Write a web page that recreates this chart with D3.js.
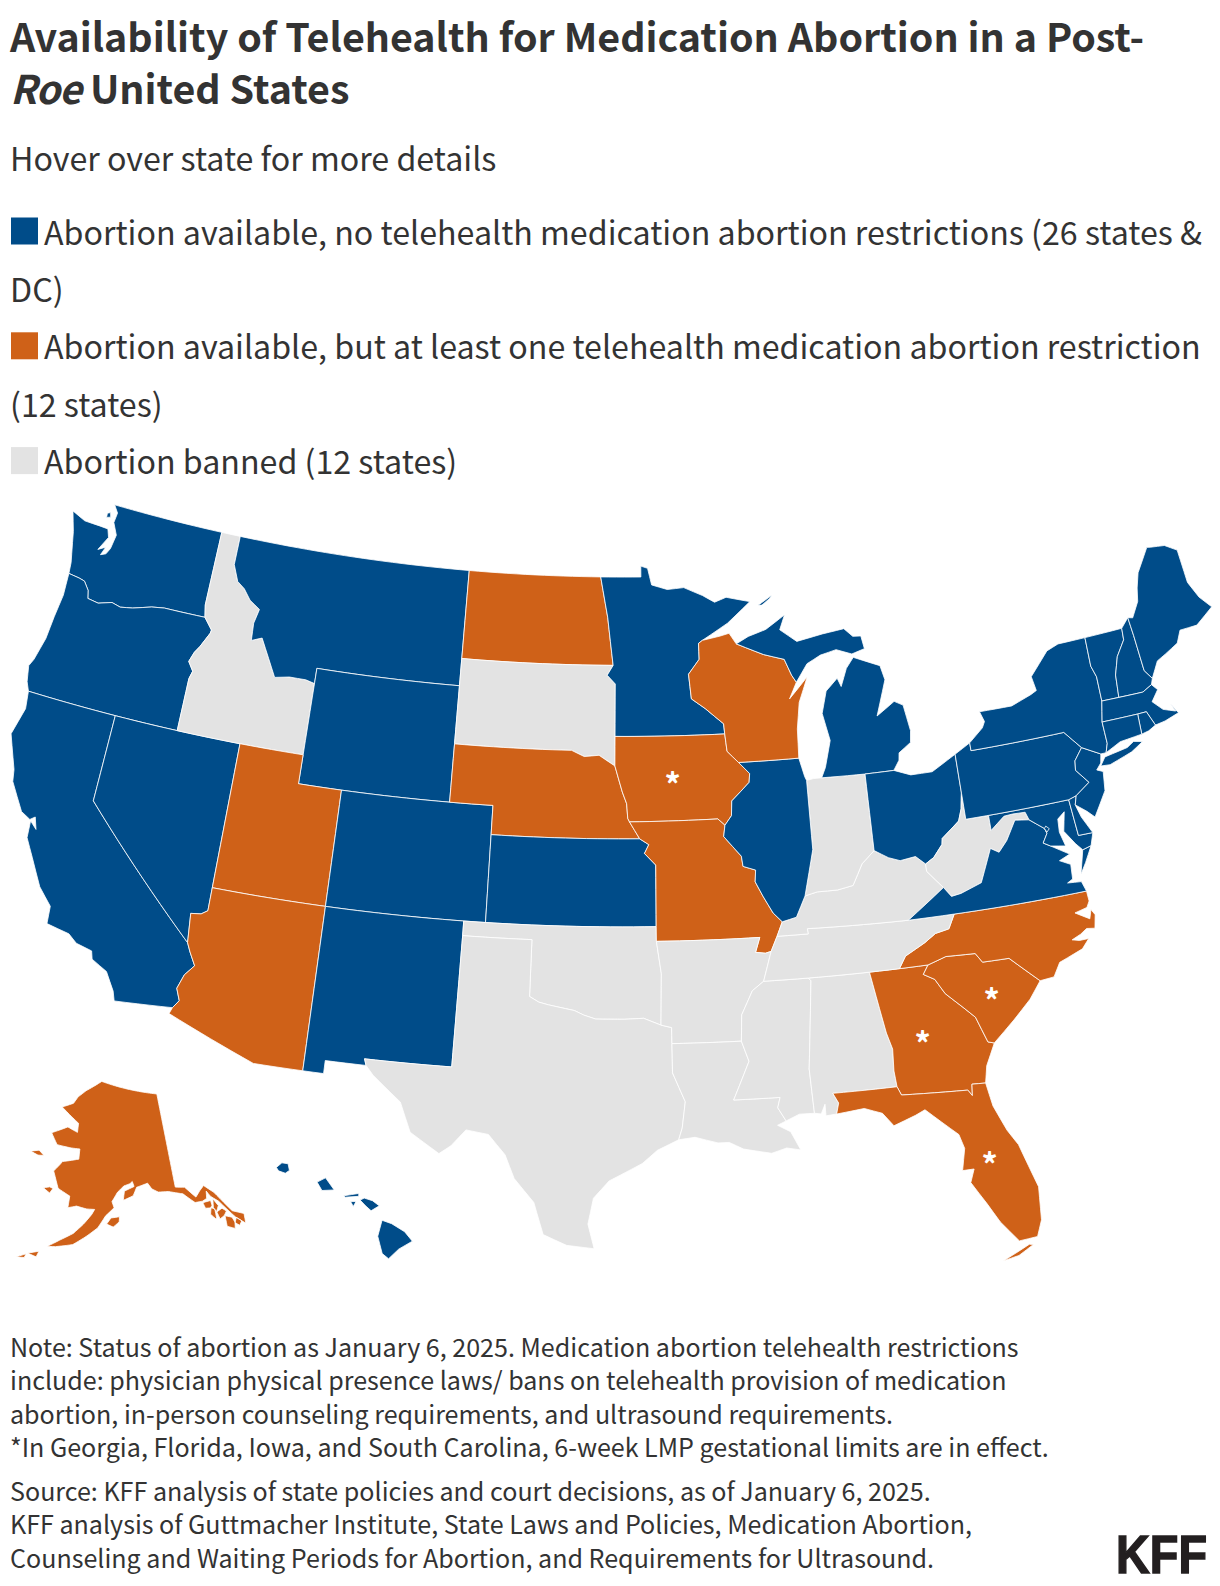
<!DOCTYPE html>
<html>
<head>
<meta charset="utf-8">
<script src="https://d3js.org/d3.v7.min.js"></script>
<style>
html, body { margin: 0; background: #fff; }
text { font-family: "Noto Sans CJK SC", "Noto Sans", sans-serif; fill: #333; }
</style>
</head>
<body>
<div id="chart"></div>
<script>
var titleLines = [[["Availability of Telehealth for Medication Abortion in a Post-", false]], [["Roe", true], [" United States", false]]];
var subtitle = "Hover over state for more details";
var legendLabels = [
  ["Abortion available, no telehealth medication abortion restrictions (26 states &", "DC)"],
  ["Abortion available, but at least one telehealth medication abortion restriction", "(12 states)"],
  ["Abortion banned (12 states)"]
];
var noteLines = [
  "Note: Status of abortion as January 6, 2025. Medication abortion telehealth restrictions",
  "include: physician physical presence laws/ bans on telehealth provision of medication",
  "abortion, in-person counseling requirements, and ultrasound requirements.",
  "*In Georgia, Florida, Iowa, and South Carolina, 6-week LMP gestational limits are in effect."
];
var sourceLines = [
  "Source: KFF analysis of state policies and court decisions, as of January 6, 2025.",
  "KFF analysis of Guttmacher Institute, State Laws and Policies, Medication Abortion,",
  "Counseling and Waiting Periods for Abortion, and Requirements for Ultrasound."
];

var noRestriction = ["WA","OR","CA","NV","MT","WY","CO","NM","KS","MN","IL","MI","OH","PA","NY","VT","NH","ME","MA","RI","CT","NJ","DE","MD","DC","VA","HI"];
var restricted = ["AK","AZ","UT","ND","NE","IA","MO","WI","NC","SC","GA","FL"];
var banned = ["ID","SD","TX","OK","AR","LA","MS","AL","TN","KY","WV","IN"];
var gestationalLimit = [[-93.77, 41.4], [-80.77, 33.05], [-83.82, 31.95], [-81.85, 27.5]];

// shared borders, lon/lat
var columbia = [[-124.0,46.27],[-123.45,46.22],[-123.15,46.17],[-122.85,45.9],[-122.75,45.63],[-122.2,45.57],[-121.55,45.72],[-121.1,45.64],[-120.5,45.72],[-119.6,45.92],[-118.98,45.99],[-116.92,46.0]];
var snake = [[-117.03,42],[-117.03,43.83],[-116.93,44.1],[-117.22,44.4],[-117.05,44.75],[-116.85,44.98],[-116.5,45.5],[-116.47,45.62],[-116.92,46.0]];
var bitterroot = [[-116.05,48],[-115.7,47.45],[-115.3,47.25],[-114.9,46.9],[-114.35,46.65],[-114.5,46.15],[-114.45,45.55],[-113.95,45.7],[-113.45,45.05],[-113.0,44.45],[-112.3,44.55],[-111.5,44.55],[-111.05,44.47]];
var coloradoRiver = [[-114.63,35],[-114.45,34.7],[-114.15,34.27],[-114.5,33.9],[-114.7,33.4],[-114.5,33],[-114.72,32.72]];
var redRiver = [[-94.48,33.64],[-95.2,33.88],[-96,33.85],[-96.6,33.85],[-97.2,33.85],[-97.7,33.98],[-98.1,34.13],[-99.2,34.3],[-99.6,34.38],[-100,34.56]];
var missouriUpper = [[-98.5,43],[-97.9,42.8],[-97.2,42.85],[-96.45,42.49]];
var missouriMid = [[-96.45,42.49],[-96.1,41.6],[-95.9,41.2],[-95.85,40.7],[-95.77,40.58]];
var missouriLow = [[-95.77,40.58],[-95.31,40],[-94.9,39.8],[-95.1,39.5],[-94.6,39.1]];
var mississippiMN = [[-92.3,46.65],[-92.3,46.1],[-92.85,45.6],[-92.75,44.75],[-92.1,44.4],[-91.25,43.85],[-91.22,43.5]];
var mississippiIA = [[-91.22,43.5],[-91.15,42.9],[-90.64,42.5]];
var mississippiIL = [[-90.64,42.5],[-90.15,42.1],[-90.2,41.8],[-91.05,41.2],[-91.1,40.7],[-91.42,40.38]];
var mississippiMO = [[-91.42,40.38],[-91.5,40],[-90.75,39.3],[-90.7,38.95],[-90.15,38.8],[-90.2,38.4],[-89.9,37.9],[-89.5,37.3],[-89.13,36.98]];
var mississippiKY = [[-89.13,36.98],[-89.4,36.5]];
var mississippiTN = [[-89.4,36.5],[-89.7,36]];
var mississippiAR = [[-90.1,35],[-90.6,34.7],[-91.1,33.9],[-91.17,33]];
var mississippiLA = [[-91.17,33],[-90.9,32.3],[-91.6,31]];
var ohioIL = [[-89.13,36.98],[-88.5,37.1],[-88.05,37.8]];
var ohioIN = [[-88.05,37.8],[-87.5,37.9],[-86.6,37.9],[-85.9,38],[-85.4,38.7],[-84.8,39.1]];
var ohioOH = [[-84.8,39.1],[-84.2,38.8],[-83.7,38.65],[-83,38.72],[-82.6,38.42]];
var ohioWV = [[-82.6,38.42],[-82.2,38.6],[-81.75,39],[-81.7,39.2],[-80.85,39.7],[-80.65,40.1],[-80.52,40.64]];
var savannah = [[-83.1,35],[-83.35,34.7],[-82.9,34.48],[-82.55,33.95],[-81.9,33.4],[-81.45,33],[-81.1,32.1],[-80.85,32.03]];
var carolinas = [[-83.1,35],[-82.3,35.2],[-81.05,35.15],[-80.8,34.82],[-79.67,34.8],[-78.55,33.86]];
var smokies = [[-81.68,36.59],[-82,36.12],[-82.6,36.03],[-83.1,35.77],[-84,35.4],[-84.32,35]];
var chattahoochee = [[-85.6,35],[-85.18,32.87],[-85,32.3],[-85.05,31.55],[-85,31]];
var kyVa = [[-83.68,36.6],[-81.97,37.54]];
var wvKy = [[-81.97,37.54],[-82.6,38.17],[-82.6,38.42]];
var wvVa = [[-77.72,39.32],[-78.35,39.4],[-78.87,38.77],[-79.3,38.42],[-79.65,38.6],[-80.3,37.5],[-81.25,37.25],[-81.68,37.2],[-81.97,37.54]];
var potomac = [[-77,38.3],[-77.3,38.45],[-77.05,38.75],[-77.12,38.93],[-77.72,39.32]];
var wvMd = [[-79.48,39.72],[-79.48,39.2],[-78.8,39.6],[-78.4,39.62],[-77.83,39.6],[-77.72,39.32]];
var delaware = [[-74.72,40.15],[-75.42,39.8]];
var paNj = [[-74.7,41.36],[-75.13,40.97],[-75.2,40.65],[-74.72,40.15]];
var connecticutRiver = [[-71.5,45],[-71.55,44.6],[-72.05,44.1],[-72.35,43.5],[-72.46,42.73]];
var nyNe = [[-73.35,45],[-73.4,44],[-73.25,43.6],[-73.28,42.75]];
var wiMi = [[-90.42,46.57],[-89.1,46.14],[-88.1,45.92],[-87.8,45.35],[-87.6,45.1]];
var meNh = [[-71.08,45.3],[-71.03,44.65],[-70.98,43.4],[-70.7,43.07]];
var rioGrande = [[-106.53,31.78],[-106.2,31.47],[-105,30.65],[-104.5,29.65],[-103.3,29],[-102.85,29.3],[-102.3,29.88],[-101.4,29.77],[-100.7,29.1],[-100.3,28.3],[-99.5,27.5],[-99.1,26.4],[-98.2,26.05],[-97.15,25.95]];

function rev(a) { return a.slice().reverse(); }
function ring() { return [].concat.apply([], arguments); }

var WA = [ring([[-124.73,48.38],[-124.4,47.7],[-124.15,46.95],[-124.05,46.65]], columbia, [[-117.04,46.42],[-117.03,49],[-122.76,49],[-122.5,48.75],[-122.55,48.4],[-122.25,48.0],[-122.35,47.5],[-122.5,47.28],[-122.75,47.2],[-122.6,47.5],[-122.95,47.35],[-122.6,47.85],[-122.75,48.13],[-123.2,48.15],[-124,48.17]]), [[-123.0,48.65],[-122.85,48.7],[-122.78,48.55],[-122.98,48.5]]];
var OR = [ring([[-124.0,46.27],[-123.95,45.5],[-124.07,44.7],[-124.15,43.9],[-124.4,43.1],[-124.55,42.84],[-124.4,42.3],[-124.21,42],[-120,42]], snake, rev(columbia).slice(1))];
var CA = [ring([[-124.21,42],[-124.1,41.4],[-124.4,40.44],[-123.8,39.3],[-123.7,38.9],[-122.95,38],[-122.5,37.82],[-122.3,37.95],[-122.12,37.55],[-122.45,37.78],[-122.4,37.2],[-121.95,36.6],[-121.3,35.7],[-120.65,35.15],[-120.6,34.55],[-119.6,34.4],[-119.2,34.15],[-118.5,34.02],[-118.4,33.75],[-117.7,33.45],[-117.25,32.85],[-117.12,32.53]], rev(coloradoRiver), [[-120,39],[-120,42]])];
var NV = [ring([[-120,42],[-114.04,42],[-114.04,36.2],[-114.3,36.05],[-114.74,36],[-114.63,35],[-120,39]])];
var ID = [ring([[-117.03,49],[-116.05,49]], bitterroot, [[-111.05,42]], snake, [[-117.04,46.42]])];
var MT = [ring([[-116.05,49],[-104.05,49],[-104.05,45],[-111.05,45]], rev(bitterroot))];
var WY = [[[-111.05,45],[-104.05,45],[-104.05,41],[-111.05,41]]];
var UT = [[[-114.04,42],[-111.05,42],[-111.05,41],[-109.05,41],[-109.05,37],[-114.04,37]]];
var CO = [[[-109.05,41],[-102.05,41],[-102.05,37],[-109.05,37]]];
var AZ = [ring([[-114.04,37],[-109.05,37],[-109.05,31.33],[-111.07,31.33],[-114.81,32.5]], rev(coloradoRiver), [[-114.74,36],[-114.3,36.05],[-114.04,36.2]])];
var NM = [[[-109.05,37],[-103,37],[-103,36.5],[-103.05,32],[-106.62,32],[-106.53,31.78],[-108.2,31.78],[-108.2,31.33],[-109.05,31.33]]];
var ND = [[[-104.05,49],[-97.23,49],[-96.85,47.6],[-96.56,45.94],[-104.05,45.94]]];
var SD = [ring([[-104.05,45.94],[-96.56,45.94],[-96.85,45.6],[-96.45,45.3],[-96.45,43.5],[-96.45,42.49]], rev(missouriUpper), [[-104.05,43]])];
var NE = [ring([[-104.05,43]], missouriUpper, missouriMid.slice(1), missouriLow.slice(1,2), [[-102.05,40],[-102.05,41],[-104.05,41]])];
var KS = [ring([[-102.05,40]], missouriLow.slice(1), [[-94.62,37],[-102.05,37]])];
var OK = [ring([[-103,37],[-94.62,37],[-94.62,36.5],[-94.43,35.4]], redRiver, [[-100,36.5],[-103,36.5]])];
var TX = [ring([[-103,36.5],[-100,36.5]], rev(redRiver), [[-94.04,33.55],[-94.04,33],[-94.04,32],[-93.55,31],[-93.7,30.1],[-93.85,29.7],[-94.7,29.35],[-95.3,28.9],[-96.6,28.3],[-97.2,27.7],[-97.4,26.8]], rev(rioGrande), [[-106.62,32],[-103.05,32]])];
var MN = [ring([[-97.23,49],[-95.15,49],[-95.15,49.38],[-94.8,49.3],[-94.6,48.72],[-93.8,48.55],[-92.95,48.6],[-92,48.3],[-91.4,48.05],[-90.8,48.2],[-89.6,48],[-90.8,47.3],[-92.1,46.75]], mississippiMN, [[-96.45,43.5],[-96.45,45.3],[-96.85,45.6],[-96.56,45.94],[-96.85,47.6]])];
var IA = [ring([[-96.45,43.5]], mississippiIA, mississippiIL.slice(1), [[-91.73,40.61]], rev(missouriMid))];
var MO = [ring([[-95.77,40.58],[-91.73,40.61]], mississippiMO, mississippiKY.slice(1), mississippiTN.slice(1), [[-89.95,35.95],[-90.37,36],[-90.15,36.5],[-94.62,36.5],[-94.62,37]], rev(missouriLow))];
var AR = [ring([[-94.62,36.5],[-90.15,36.5],[-90.37,36],[-89.95,35.95],[-89.7,36]], mississippiAR, [[-94.04,33],[-94.04,33.55],[-94.48,33.64],[-94.43,35.4]])];
var LA = [ring([[-94.04,33]], mississippiLA, [[-89.73,31],[-89.85,30.65],[-89.55,30.18],[-89.9,30.05],[-89.4,29.8],[-89.05,29.15],[-89.6,29.25],[-90.2,29.1],[-91.3,29.3],[-91.85,29.55],[-92.3,29.55],[-93.2,29.77],[-93.85,29.7],[-93.7,30.1],[-93.55,31],[-94.04,32]])];
var MS = [ring(rev(mississippiLA), rev(mississippiAR), [[-88.2,35],[-88.1,34.9],[-88.47,31.9],[-88.4,30.37],[-89,30.38],[-89.55,30.18],[-89.85,30.65],[-89.73,31]])];
var AL = [ring([[-88.2,35]], chattahoochee, [[-87.6,31],[-87.4,30.65],[-87.52,30.28],[-87.95,30.25],[-87.95,30.65],[-88.13,30.33],[-88.4,30.37],[-88.47,31.9],[-88.1,34.9]])];
var GA = [ring(chattahoochee.slice(0,1), [[-84.32,35]], savannah, [[-81.3,31.3],[-81.45,30.72],[-82,30.75],[-82.05,30.36],[-82.2,30.57],[-84.86,30.7]], rev(chattahoochee).slice(0,4))];
var FL = [ring([[-87.6,31],[-85,31],[-84.86,30.7],[-82.2,30.57],[-82.05,30.36],[-82,30.75],[-81.45,30.72],[-81.3,29.9],[-80.9,29],[-80.55,28.45],[-80.05,26.9],[-80.15,25.75],[-80.4,25.2],[-81.1,25.15],[-81.7,25.9],[-82.1,26.6],[-82.6,27.4],[-82.4,27.85],[-82.85,27.85],[-82.65,28.6],[-82.8,29.1],[-83.4,29.6],[-84,30.1],[-84.4,29.95],[-85.3,29.68],[-85.7,30.15],[-86.4,30.38],[-87.52,30.28],[-87.4,30.65]]), [[-81.8,24.55],[-81.2,24.65],[-80.6,24.95],[-80.75,24.98],[-81.3,24.75]]];
var SC = [ring(carolinas, [[-79.1,33.3],[-79.9,32.7]], savannah.slice(-1), rev(savannah).slice(1))];
var NC = [ring(smokies, [[-83.1,35]], carolinas.slice(1), [[-77.95,33.9],[-77.6,34.35],[-76.55,34.65],[-76.2,34.95],[-76.6,34.95],[-76.9,35.02],[-76.5,35.15],[-76.2,35.3],[-75.85,35.25],[-75.72,35.7],[-75.85,35.9],[-75.98,35.6],[-76.55,35.9],[-76,36],[-75.85,36.2],[-75.87,36.55]])];
var TN = [ring([[-90.1,35],[-89.7,36],[-89.4,36.5],[-88.05,36.5],[-88.07,36.68],[-83.68,36.6]], smokies, [[-85.6,35],[-88.2,35]])];
var KY = [ring([[-89.4,36.5]], rev(mississippiKY), ohioIL.slice(1), ohioIN.slice(1), ohioOH.slice(1), rev(wvKy).slice(1), rev(kyVa).slice(1), [[-88.07,36.68],[-88.05,36.5]])];
var IN = [ring([[-87.53,41.72],[-87.2,41.76],[-86.82,41.76],[-84.8,41.73]], rev(ohioIN), [[-87.53,39.35]])];
var IL = [ring(mississippiIL.slice(0,1), [[-87.8,42.5],[-87.6,41.85],[-87.53,41.72],[-87.53,39.35]], rev(ohioIL), rev(mississippiMO).slice(1), rev(mississippiIL).slice(1))];
var WI = [ring([[-92.1,46.75],[-91.2,46.87],[-90.75,46.95]], wiMi, [[-88,44.55],[-87.05,45.25],[-87.55,44.4],[-87.75,43.5],[-87.8,42.5]], rev(mississippiIA), rev(mississippiMN))];
var MI = [ring(wiMi, [[-87,45.7],[-86.3,45.95],[-85.5,46.08],[-84.75,45.87],[-84.1,46],[-84.2,46.45],[-84.6,46.47],[-85,46.77],[-86.1,46.67],[-87.4,46.5],[-88.2,46.95],[-87.9,47.45],[-88.9,47],[-89.8,46.8]]),
  [[-86.82,41.76],[-84.8,41.73],[-83.45,41.73],[-83.15,42.05],[-83.1,42.3],[-82.5,42.6],[-82.42,43],[-82.6,43.9],[-83,44.07],[-83.9,43.65],[-83.3,44.85],[-83.45,45.35],[-84.7,45.75],[-85.1,45.4],[-85.45,44.8],[-85.6,45.1],[-86.2,44.7],[-86.5,43.95],[-86.25,43],[-86.6,42.1]],
  [[-89.2,47.85],[-88.45,48.17],[-88.6,48.05],[-89,47.85]]];
var OH = [ring([[-84.8,41.73],[-83.45,41.73],[-82.7,41.5],[-81.7,41.5],[-80.52,41.97],[-80.52,40.64]], rev(ohioWV), rev(ohioOH))];
var WV = [ring(ohioWV, [[-80.52,39.72]], wvMd, wvVa.slice(1), wvKy.slice(1))];
var VA = [ring(kyVa.slice(0,1), [[-81.68,36.59],[-75.87,36.55],[-76,36.9],[-76.6,36.95],[-76.35,37.05],[-76.3,37.55],[-76.75,37.75],[-76.25,37.9]], potomac, wvVa.slice(1), kyVa.slice(1)), [[-75.95,37.15],[-75.65,37.95],[-75.25,38.03],[-75.65,37.5]]];
var MD = [ring(wvMd.slice(0,1), [[-75.79,39.72],[-75.7,38.46],[-75.05,38.45],[-75.25,38.03],[-75.65,37.95],[-75.9,38.2],[-76.3,38.7],[-76.1,39.35],[-76.45,39.15],[-76.5,38.7],[-76.35,38.2],[-77,38.3]], potomac.slice(1), rev(wvMd).slice(1))];
var DC = [[[-77.12,38.93],[-77.04,39],[-76.91,38.89],[-77.04,38.79]]];
var DE = [[[-75.79,39.72],[-75.42,39.8],[-75.55,39.5],[-75.4,39.05],[-75.05,38.45],[-75.7,38.46]]];
var PA = [ring([[-80.52,41.97],[-79.76,42.27],[-79.76,42],[-75.35,42]], paNj, delaware.slice(1), [[-75.79,39.72],[-80.52,39.72]])];
var NJ = [ring(paNj.slice(0,1), [[-73.9,41],[-74,40.7],[-74.25,40.5],[-73.98,40.4],[-74.1,39.75],[-74.8,38.95],[-75.1,39.2],[-75.55,39.5],[-75.42,39.8]], rev(paNj).slice(0,3))];
var NY = [ring([[-79.76,42.27],[-79.05,42.7],[-78.9,42.9],[-79.05,43.26],[-77.5,43.25],[-76.5,43.5],[-76.2,43.6],[-76.3,44.1],[-75.3,44.85],[-74.7,45]], nyNe, [[-73.5,42.05],[-73.5,41.3],[-73.65,41],[-73.9,41],[-74.7,41.36],[-75.35,42],[-79.76,42]]), [[-74.03,40.6],[-73.75,40.87],[-72.65,41],[-72.3,41.15],[-71.9,41.07],[-72.5,40.82],[-73.6,40.57]]];
var VT = [ring(nyNe, [[-72.46,42.73]], rev(connecticutRiver))];
var NH = [ring(connecticutRiver, [[-71.3,42.7],[-70.82,42.87]], rev(meNh))];
var ME = [ring(meNh, [[-70.25,43.6],[-69.8,43.75],[-69.1,44],[-68.8,44.4],[-67.95,44.4],[-67,44.85],[-67.45,45.3],[-67.78,45.9],[-67.8,47.07],[-68.35,47.35],[-69.05,47.43],[-69.23,47.46],[-70,46.7],[-70.25,46.2],[-70.4,45.75],[-70.85,45.25]])];
var MA = [ring([[-73.5,42.05],[-73.28,42.75],[-72.46,42.73],[-71.3,42.7],[-70.82,42.87],[-70.6,42.65],[-71,42.3],[-70.6,41.95],[-70.05,41.78],[-70.2,42.07],[-69.95,41.7],[-70.65,41.55],[-71.13,41.5],[-71.38,42.02],[-71.8,42.02]])];
var RI = [[[-71.8,42.02],[-71.38,42.02],[-71.13,41.5],[-71.5,41.37],[-71.85,41.32]]];
var CT = [[[-73.5,42.05],[-71.8,42.02],[-71.85,41.32],[-72.9,41.25],[-73.65,41],[-73.5,41.3]]];
var AK = [
  [[-141,69.65],[-141,60.3],[-139.2,60.1],[-137.5,58.9],[-136.5,59.4],[-135.5,59.8],[-134,58.9],[-133.2,58.1],[-131.8,56.6],[-130,55.95],[-130.3,55],[-131.6,55.9],[-132.6,56.9],[-133.6,57.9],[-134.8,58.6],[-135.3,59.2],[-135.6,58.5],[-136.5,58.35],[-137.9,58.4],[-139.8,59.5],[-142.5,60],[-144.5,60.1],[-145.7,60.5],[-146.4,61.1],[-148.7,60.8],[-149.5,60],[-151.5,59.6],[-151.2,60.5],[-149.2,60.9],[-149.5,61.4],[-150,61.2],[-151.3,61],[-152.6,60.4],[-153.7,59.5],[-153.3,58.9],[-154.9,58.1],[-156.3,56.9],[-158.3,56],[-160.5,55.1],[-163.4,54.7],[-164.8,54.6],[-162.8,55.4],[-160.6,56.2],[-158.9,57.2],[-157.5,58.2],[-157,58.7],[-158.5,58.7],[-160.5,58.9],[-162.1,58.65],[-162,59.8],[-164.5,60.4],[-165.5,61.5],[-166,62],[-164.8,62.8],[-164.5,63.05],[-161,63.5],[-161,64.5],[-163,64.5],[-166.3,64.6],[-168.1,65.65],[-164.5,66.5],[-162,66.1],[-162,67],[-164.1,67.6],[-166.8,68.35],[-164,68.9],[-163,69.6],[-161,70.3],[-156.6,71.35],[-152,70.85],[-146,70.2]],
  [[-154.7,57.3],[-153.9,57.9],[-152.3,58],[-152.4,57.5],[-153.5,57]],
  [[-135,57.7],[-135,58.2],[-136.5,58.2],[-136.3,57.6],[-135.4,57.5]],
  [[-134.85,56.4],[-134.7,57.3],[-135.3,57.5],[-135.7,56.9],[-135,56.3]],
  [[-133.9,57.5],[-134.5,58.3],[-134.9,57.4],[-134.5,57]],
  [[-133.4,56.4],[-132.8,56.75],[-133.4,57.15],[-134.5,56.95],[-134.3,56.2]],
  [[-132,55.45],[-132.2,56],[-133.3,56.35],[-133.5,55.3],[-132.3,54.85]],
  [[-130.8,55.35],[-131.5,55.85],[-132,55.4],[-131.4,55]],
  [[-167.4,60.2],[-166,59.8],[-165.5,60.3],[-166.2,60.4]],
  [[-171.75,63.4],[-170,63.7],[-168.7,63.3],[-170,63.2]],
  [[-167.8,53.6],[-166,54],[-166.3,53.4]],
  [[-169.5,53],[-168,53.5],[-168.2,53.1]],
  [[-174.5,52.3],[-172.8,52.2],[-174,52]]
];
var HI = [
  [[-155.9,20.25],[-155.55,20.13],[-155.08,19.85],[-154.8,19.52],[-155.3,19.25],[-155.67,18.92],[-155.9,19.1],[-156.06,19.7]],
  [[-156.7,20.95],[-156.55,21.02],[-156.25,20.93],[-156,20.75],[-156.3,20.58],[-156.5,20.75]],
  [[-157.3,21.1],[-156.75,21.18],[-156.75,21.08],[-157.25,21.05]],
  [[-158.28,21.57],[-157.97,21.72],[-157.65,21.3],[-158.1,21.28]],
  [[-159.78,22.07],[-159.58,22.23],[-159.35,22.2],[-159.3,21.97],[-159.45,21.87],[-159.7,21.95]],
  [[-157.05,20.9],[-156.85,20.9],[-156.95,20.73]]
];

var stateShapes = {WA:WA,OR:OR,CA:CA,NV:NV,ID:ID,MT:MT,WY:WY,UT:UT,CO:CO,AZ:AZ,NM:NM,ND:ND,SD:SD,NE:NE,KS:KS,OK:OK,TX:TX,MN:MN,IA:IA,MO:MO,AR:AR,LA:LA,MS:MS,AL:AL,GA:GA,FL:FL,SC:SC,NC:NC,TN:TN,KY:KY,IN:IN,IL:IL,WI:WI,MI:MI,OH:OH,WV:WV,VA:VA,MD:MD,DE:DE,PA:PA,NJ:NJ,NY:NY,VT:VT,NH:NH,ME:ME,MA:MA,RI:RI,CT:CT,AK:AK,HI:HI,DC:DC};

var blue = "#004c89", orange = "#cf6118", grey = "#e3e3e3";
var width = 1220, height = 1586;

var color = d3.scaleOrdinal()
  .domain(noRestriction.concat(restricted, banned))
  .range(noRestriction.map(function() { return blue; }).concat(restricted.map(function() { return orange; }), banned.map(function() { return grey; })));

// borders run along parallels, so add vertices before geoPath draws great arcs
function densify(r) {
  var out = [];
  for (var i = 0; i < r.length; i++) {
    var a = r[i], b = r[(i + 1) % r.length];
    var n = Math.ceil(Math.max(Math.abs(b[0] - a[0]), Math.abs(b[1] - a[1])) / 0.5) || 1;
    for (var j = 0; j < n; j++) out.push([a[0] + (b[0] - a[0]) * j / n, a[1] + (b[1] - a[1]) * j / n]);
  }
  out.push(out[0].slice());
  if (d3.geoArea({type: "Polygon", coordinates: [out]}) > 2 * Math.PI) out.reverse();
  return out;
}

var features = Object.keys(stateShapes).map(function(id) {
  return {type: "Feature", id: id, geometry: {type: "MultiPolygon", coordinates: stateShapes[id].map(function(r) { return [densify(r)]; })}};
});

var projection = d3.geoAlbersUsa().scale(1665).translate([611, 877]);
var path = d3.geoPath(projection);

var svg = d3.select("#chart").append("svg")
  .attr("width", width)
  .attr("height", height)
  .style("display", "block");

var title = svg.append("g").selectAll("text").data(titleLines).enter().append("text")
  .attr("x", 10)
  .attr("y", function(d, i) { return 52 + i * 52; })
  .style("font-size", "39.4px")
  .style("font-weight", 700);
title.selectAll("tspan").data(function(d) { return d; }).enter().append("tspan")
  .style("font-style", function(d) { return d[1] ? "italic" : "normal"; })
  .style("letter-spacing", function(d) { return d[1] ? "-1px" : "0"; })
  .text(function(d) { return d[0]; });

svg.append("text")
  .attr("x", 10).attr("y", 171)
  .style("font-size", "32.2px")
  .text(subtitle);

var legendColors = [blue, orange, grey];
var legendY = 244.5;
legendLabels.forEach(function(lines, i) {
  svg.append("rect")
    .attr("x", 11).attr("y", legendY - 27)
    .attr("width", 27).attr("height", 27)
    .attr("fill", legendColors[i]);
  lines.forEach(function(line, j) {
    svg.append("text")
      .attr("x", j == 0 ? 44 : 10)
      .attr("y", legendY)
      .style("font-size", "32.2px")
      .text(line);
    legendY += 57.4;
  });
});

svg.append("g").selectAll("path").data(features).enter().append("path")
  .attr("d", path)
  .attr("fill", function(d) { return color(d.id); })
  .attr("stroke", "#fff")
  .attr("stroke-width", 0.8)
  .attr("stroke-linejoin", "round");

svg.append("g").selectAll("text").data(gestationalLimit).enter().append("text")
  .attr("x", function(d) { return projection(d)[0]; })
  .attr("y", function(d) { return projection(d)[1]; })
  .attr("text-anchor", "middle")
  .style("font-size", "32px")
  .style("font-weight", 700)
  .style("fill", "#fff")
  .text("*");

svg.append("g").selectAll("text").data(noteLines).enter().append("text")
  .attr("x", 10)
  .attr("y", function(d, i) { return 1357 + i * 33.4; })
  .style("font-size", "25.07px")
  .text(function(d) { return d; });

svg.append("g").selectAll("text").data(sourceLines).enter().append("text")
  .attr("x", 10)
  .attr("y", function(d, i) { return 1501 + i * 33.4; })
  .style("font-size", "25.07px")
  .text(function(d) { return d; });

svg.append("text")
  .attr("x", 1116).attr("y", 1573)
  .attr("textLength", 91)
  .attr("lengthAdjust", "spacingAndGlyphs")
  .style("font-family", "'Liberation Sans', Arial, sans-serif")
  .style("font-size", "53px")
  .style("font-weight", 700)
  .style("fill", "#231f20")
  .style("stroke", "#231f20")
  .style("stroke-width", 1.5)
  .text("KFF");
</script>
</body>
</html>
